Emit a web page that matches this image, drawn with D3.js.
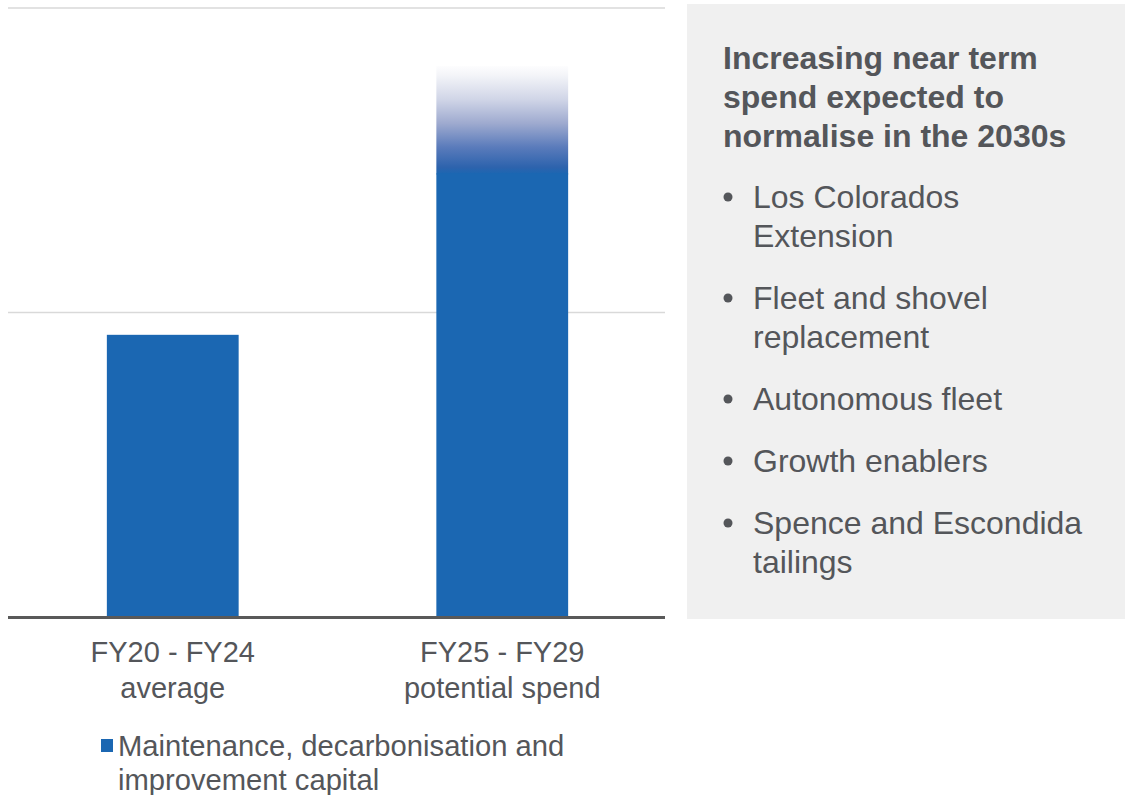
<!DOCTYPE html>
<html>
<head>
<meta charset="utf-8">
<script src="https://cdn.jsdelivr.net/npm/d3@7"></script>
<style>
  html, body { margin: 0; padding: 0; background: #ffffff; }
  svg { display: block; font-family: "Liberation Sans", Arial, sans-serif; }
</style>
</head>
<body>
<svg id="chart" width="1125" height="795"></svg>
<script>
// ---- data ----
const categories = ["FY20 - FY24|average", "FY25 - FY29|potential spend"];
const solidValues = [0.93, 1.46];     // solid bar heights (relative units)
const fadeTopValues = [null, 1.81];   // faded upper extent of the potential range
const gridTicks = [1, 2];
const seriesName = ["Maintenance, decarbonisation and", "improvement capital"];
const panelTitle = ["Increasing near term", "spend expected to", "normalise in the 2030s"];
const bullets = [
  ["Los Colorados", "Extension"],
  ["Fleet and shovel", "replacement"],
  ["Autonomous fleet"],
  ["Growth enablers"],
  ["Spence and Escondida", "tailings"]
];

// ---- styles ----
const BLUE = "#1b67b2";
const TEXT = "#54565a";

const svg = d3.select("#chart");

const x = d3.scaleBand().domain(categories).range([8, 667]).paddingInner(0.6).paddingOuter(0.3);
const y = d3.scaleLinear().domain([0, 2]).range([617, 8]);

// gradient (bottom -> top)
const defs = svg.append("defs");
const grad = defs.append("linearGradient").attr("id", "fade").attr("x1", 0).attr("y1", 1).attr("x2", 0).attr("y2", 0);
[[0, BLUE], [0.065, "#2d63ad"], [0.25, "#5a7bbb"], [0.47, "#9eaacf"], [0.69, "#d0d5e7"], [0.91, "#f3f4f8"], [1, "#fdfdfe"]]
  .forEach(([o, c]) => grad.append("stop").attr("offset", o).attr("stop-color", c));

// gridlines
svg.append("g").selectAll("line").data(gridTicks).join("line")
  .attr("x1", 8).attr("x2", 665)
  .attr("y1", d => y(d)).attr("y2", d => y(d))
  .attr("stroke", "#d9d9d9").attr("stroke-width", 1.5);

// faded extension (overlaps solid bar slightly to avoid a seam)
svg.append("g").selectAll("rect").data(categories.map((c, i) => ({c, s: solidValues[i], t: fadeTopValues[i]})).filter(d => d.t != null))
  .join("rect")
  .attr("x", d => x(d.c)).attr("width", x.bandwidth())
  .attr("y", d => y(d.t)).attr("height", d => y(d.s) - y(d.t) + 2)
  .attr("fill", "url(#fade)");

// solid bars
svg.append("g").selectAll("rect").data(categories.map((c, i) => ({c, v: solidValues[i]})))
  .join("rect")
  .attr("x", d => x(d.c)).attr("width", x.bandwidth())
  .attr("y", d => y(d.v) + 1).attr("height", d => y(0) - y(d.v) - 1)
  .attr("fill", BLUE);

// baseline
svg.append("line").attr("x1", 8).attr("x2", 665).attr("y1", y(0) + 0.5).attr("y2", y(0) + 0.5)
  .attr("stroke", "#595959").attr("stroke-width", 3);

// category labels
const xl = svg.append("g");
categories.forEach(c => {
  const lines = c.split("|");
  lines.forEach((l, j) => {
    xl.append("text").attr("x", x(c) + x.bandwidth() / 2).attr("y", 662 + j * 36)
      .attr("text-anchor", "middle").attr("font-size", 29).attr("fill", TEXT).text(l);
  });
});

// legend
svg.append("rect").attr("x", 101).attr("y", 739).attr("width", 12).attr("height", 13).attr("fill", BLUE);
seriesName.forEach((l, j) => {
  svg.append("text").attr("x", 118).attr("y", 756 + j * 34)
    .attr("font-size", 29.2).attr("fill", TEXT).text(l);
});

// right panel
svg.append("rect").attr("x", 687).attr("y", 4).attr("width", 438).attr("height", 615).attr("fill", "#f0f0f0");
panelTitle.forEach((l, j) => {
  svg.append("text").attr("x", 723).attr("y", 69 + j * 39)
    .attr("font-size", 32).attr("font-weight", "bold").attr("fill", TEXT).text(l);
});
let yy = 208;
bullets.forEach(item => {
  svg.append("circle").attr("cx", 728).attr("cy", yy - 11).attr("r", 4.5).attr("fill", TEXT);
  item.forEach((l, j) => {
    svg.append("text").attr("x", 753).attr("y", yy + j * 39)
      .attr("font-size", 32).attr("fill", TEXT).text(l);
  });
  yy += (item.length - 1) * 39 + 62;
});
</script>
</body>
</html>
